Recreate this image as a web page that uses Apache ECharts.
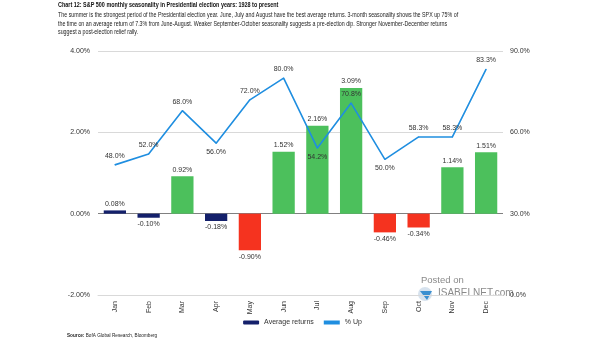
<!DOCTYPE html>
<html>
<head>
<meta charset="utf-8">
<script src="https://cdn.jsdelivr.net/npm/echarts@6/dist/echarts.min.js"></script>
<style>
  html, body { margin: 0; padding: 0; background: #fff; }
  #chart { width: 605px; height: 341px; }
</style>
</head>
<body>
<div id="chart"></div>
<script>
// Monthly S&P 500 seasonality, Presidential election years
const months = ['Jan', 'Feb', 'Mar', 'Apr', 'May', 'Jun', 'Jul', 'Aug', 'Sep', 'Oct', 'Nov', 'Dec'];
const avgReturns = [0.08, -0.10, 0.92, -0.18, -0.90, 1.52, 2.16, 3.09, -0.46, -0.34, 1.14, 1.51];
const pctUp = [48.0, 52.0, 68.0, 56.0, 72.0, 80.0, 54.2, 70.8, 50.0, 58.3, 58.3, 83.3];
const leftTicks = [-2, 0, 2, 4];
const rightTicks = [0, 30, 60, 90];

const FONT = '"Liberation Sans", Arial, sans-serif';
const NAVY = '#14206b';
const GREEN = '#4cc05c';
const RED = '#f5331f';
const BLUE = '#1f8ee0';
const TEXT = '#333333';

function barColor(v) {
  if (Math.abs(v) < 0.25) return NAVY;
  return v > 0 ? GREEN : RED;
}

// line labels that sit under their point
const labelBelow = new Set(['Apr', 'Jul', 'Sep']);

const titleText = 'Chart 12: S&P 500 monthly seasonality in Presidential election years: 1928 to present';
const subtitleText = 'The summer is the strongest period of the Presidential election year. June, July and August have the best average returns. 3-month seasonality shows the SPX up 75% of\nthe time on an average return of 7.3% from June-August. Weaker September-October seasonality suggests a pre-election dip. Stronger November-December returns\nsuggest a post-election relief rally.';

const chart = echarts.init(document.getElementById('chart'), null, { renderer: 'canvas' });

chart.setOption({
  animation: false,
  backgroundColor: '#ffffff',
  textStyle: { fontFamily: FONT },
  graphic: [
    {
      type: 'text', x: 58, y: 1, scaleX: 0.68,
      style: {
        text: titleText, fontFamily: FONT, fontSize: 8, fontWeight: 'bold', fill: '#111',
        textVerticalAlign: 'top'
      }
    },
    {
      type: 'text', x: 58, y: 11, scaleX: 0.76,
      style: {
        text: subtitleText, fontFamily: FONT, fontSize: 7, fill: '#222', lineHeight: 8.6,
        textVerticalAlign: 'top'
      }
    },
    {
      type: 'text', x: 67, y: 332, scaleX: 0.85,
      style: {
        text: '{b|Source:} BofA Global Research, Bloomberg',
        rich: { b: { fontWeight: 'bold', fontSize: 5.5, fontFamily: FONT, fill: '#222' } },
        fontSize: 5.5, fontFamily: FONT, fill: '#222'
      }
    },
    {
      type: 'text', left: 421, top: 275,
      style: { text: 'Posted on', fontSize: 9.5, fontFamily: FONT, fill: '#8a8a8a' }
    },
    {
      type: 'text', left: 438, top: 288,
      style: { text: 'ISABELNET.com', fontSize: 10, fontFamily: FONT, fill: '#8a8a8a' }
    },
    {
      type: 'circle', shape: { cx: 425, cy: 294, r: 7 },
      style: { fill: 'rgba(120,160,200,0.3)' }
    },
    {
      type: 'polygon', shape: { points: [[420, 291], [432, 291], [427, 300]] },
      style: { fill: '#3a8fd0' }
    }
  ],
  legend: {
    bottom: 10, left: 'center',
    itemWidth: 16, itemHeight: 4, itemGap: 10,
    textStyle: { fontFamily: FONT, fontSize: 7, color: TEXT },
    data: [
      { name: 'Average returns', itemStyle: { color: NAVY } },
      { name: '% Up', icon: 'rect', itemStyle: { color: BLUE } }
    ]
  },
  grid: { left: 98, right: 102, top: 51, bottom: 46, containLabel: false },
  xAxis: {
    type: 'category',
    data: months,
    axisLine: { show: true, onZero: false, lineStyle: { color: '#d9d9d9' } },
    axisTick: { show: false },
    axisLabel: { rotate: 90, margin: 6, fontSize: 7, color: TEXT, fontFamily: FONT }
  },
  yAxis: [
    {
      type: 'value',
      min: leftTicks[0], max: leftTicks[leftTicks.length - 1], interval: 2,
      axisLine: { show: false }, axisTick: { show: false },
      axisLabel: { margin: 8, fontSize: 7, color: TEXT, fontFamily: FONT, formatter: v => v.toFixed(2) + '%' },
      splitLine: { show: true, lineStyle: { color: ['#d9d9d9', '#808080', '#d9d9d9', '#d9d9d9'], width: 1 } }
    },
    {
      type: 'value',
      min: rightTicks[0], max: rightTicks[rightTicks.length - 1], interval: 30,
      position: 'right',
      axisLine: { show: false }, axisTick: { show: false },
      axisLabel: { margin: 7, fontSize: 7, color: TEXT, fontFamily: FONT, formatter: v => v.toFixed(1) + '%' },
      splitLine: { show: false }
    }
  ],
  series: [
    {
      name: 'Average returns',
      type: 'bar',
      yAxisIndex: 0,
      barWidth: '66%',
      data: avgReturns.map(v => ({
        value: v,
        itemStyle: { color: barColor(v) },
        label: { position: v >= 0 ? 'top' : 'bottom' }
      })),
      label: {
        show: true, fontSize: 7, color: TEXT, fontFamily: FONT, distance: 3,
        formatter: p => p.value.toFixed(2) + '%'
      },
      z: 2
    },
    {
      name: '% Up',
      type: 'line',
      yAxisIndex: 1,
      symbol: 'circle',
      symbolSize: 1,
      showSymbol: true,
      lineStyle: { color: BLUE, width: 1.6 },
      itemStyle: { color: BLUE },
      data: pctUp.map((v, i) => ({
        value: v,
        label: { position: labelBelow.has(months[i]) ? 'bottom' : 'top' }
      })),
      label: {
        show: true, fontSize: 7, color: TEXT, fontFamily: FONT, distance: 5,
        formatter: p => p.value.toFixed(1) + '%'
      },
      z: 3
    }
  ]
});
</script>
</body>
</html>
